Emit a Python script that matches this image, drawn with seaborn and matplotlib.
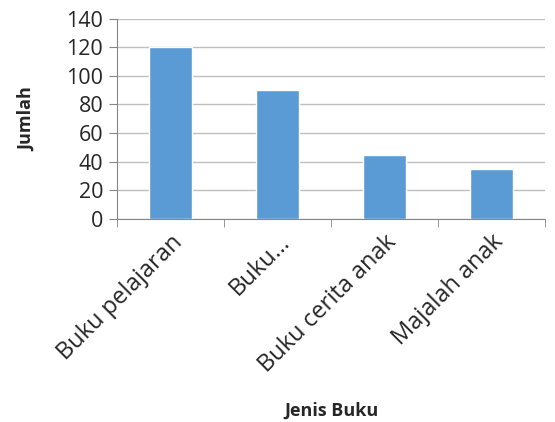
import numpy as np
import pandas as pd
import seaborn as sns
import matplotlib.pyplot as plt
from matplotlib.ticker import FixedLocator

# data
kategori = ['Buku pelajaran', 'Buku…', 'Buku cerita anak', 'Majalah anak']
jumlah = [120, 90, 45, 35]

df = pd.DataFrame({'Jenis Buku': kategori, 'Jumlah': jumlah})

sns.set_style('white')
plt.rcParams['font.family'] = ['Open Sans', 'DejaVu Sans']

fig = plt.figure(figsize=(5.55, 4.22), dpi=100)
ax = fig.add_axes([0.211, 0.481, 0.771, 0.475])

sns.barplot(data=df, x='Jenis Buku', y='Jumlah', color='#5B9BD5',
            width=0.4, saturation=1, ax=ax, zorder=3)

ax.set_ylim(0, 140)
ax.set_yticks(range(0, 141, 20))
ax.set_xlim(-0.5, len(kategori) - 0.5)
ax.yaxis.grid(True, color='#BFBFBF', linewidth=1, zorder=0)

for s in ['top', 'right']:
    ax.spines[s].set_visible(False)
for s in ['left', 'bottom']:
    ax.spines[s].set_color('#868686')

# ticks between categories, like the original
ax.xaxis.set_minor_locator(FixedLocator(np.arange(-0.5, len(kategori), 1)))
ax.tick_params(axis='x', which='major', length=0, pad=8)
ax.tick_params(axis='x', which='minor', length=6, color='#868686', bottom=True)
ax.tick_params(axis='y', length=6, color='#868686', left=True, pad=4)

ax.set_xticks(range(len(kategori)))
ax.set_xticklabels(kategori, rotation=45, ha='right', rotation_mode='anchor', fontsize=17)
for lbl in ax.get_yticklabels():
    lbl.set_fontsize(15.5)

ax.set_xlabel('Jenis Buku', fontsize=13, fontweight='bold', labelpad=18)
ax.set_ylabel('Jumlah', fontsize=13, fontweight='bold', labelpad=22)

fig.savefig('out.png', dpi=100)
